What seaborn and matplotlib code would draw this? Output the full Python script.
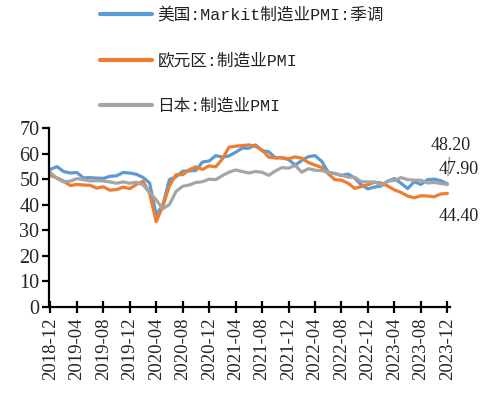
import numpy as np
import pandas as pd
import matplotlib
matplotlib.use("Agg")
import matplotlib.pyplot as plt
import seaborn as sns

months = pd.date_range("2018-12-01", "2023-12-01", freq="MS").strftime("%Y-%m").tolist()

us = [53.8,
      54.9, 53.0, 52.4, 52.6, 50.5, 50.6, 50.4, 50.3, 51.1, 51.3, 52.6, 52.4,
      51.9, 50.7, 48.5, 36.1, 39.8, 49.8, 50.9, 53.1, 53.2, 53.4, 56.7, 57.1,
      59.2, 58.6, 59.1, 60.5, 62.1, 62.1, 63.4, 61.1, 60.7, 58.4, 58.3, 57.7,
      55.5, 57.3, 58.8, 59.2, 57.0, 52.7, 52.2, 51.5, 52.0, 50.4, 47.7, 46.2,
      46.9, 47.3, 49.2, 50.2, 48.4, 46.3, 49.0, 47.9, 49.8, 50.0, 49.4, 48.2]
ez = [51.4,
      50.5, 49.3, 47.5, 47.9, 47.7, 47.6, 46.5, 47.0, 45.7, 45.9, 46.9, 46.3,
      47.9, 49.2, 44.5, 33.4, 39.4, 47.4, 51.8, 51.7, 53.7, 54.8, 53.8, 55.2,
      54.8, 57.9, 62.5, 62.9, 63.1, 63.4, 62.8, 61.4, 58.6, 58.3, 58.4, 58.0,
      58.7, 58.2, 56.5, 55.5, 54.6, 52.1, 49.8, 49.6, 48.4, 46.4, 47.1, 47.8,
      48.8, 48.5, 47.3, 45.8, 44.8, 43.4, 42.7, 43.5, 43.4, 43.1, 44.2, 44.4]
jp = [52.6,
      50.3, 48.9, 49.2, 50.2, 49.8, 49.3, 49.4, 49.3, 48.9, 48.4, 48.9, 48.4,
      48.8, 47.8, 44.8, 41.9, 38.4, 40.1, 45.2, 47.2, 47.7, 48.7, 49.0, 50.0,
      49.8, 51.4, 52.7, 53.6, 53.0, 52.4, 53.0, 52.7, 51.5, 53.2, 54.5, 54.3,
      55.4, 52.7, 54.1, 53.5, 53.3, 52.7, 52.1, 51.5, 50.8, 50.7, 49.0, 48.9,
      48.9, 47.7, 49.2, 49.5, 50.6, 49.8, 49.6, 49.6, 48.5, 48.7, 48.3, 47.9]

series_names = ["美国:Markit制造业PMI:季调", "欧元区:制造业PMI", "日本:制造业PMI"]
colors = ["#5B9BD5", "#ED7D31", "#A5A5A5"]
yticks = [0, 10, 20, 30, 40, 50, 60, 70]

n = len(months)
df = pd.DataFrame({
    "idx": list(range(n)) * 3,
    "value": us + ez + jp,
    "series": [series_names[0]] * n + [series_names[1]] * n + [series_names[2]] * n,
})

sns.set_theme(style="white")
plt.rcParams["font.family"] = ["Liberation Serif", "Noto Sans CJK SC"]

fig = plt.figure(figsize=(4.83, 4.03), dpi=100)
ax = fig.add_axes([49 / 483, (403 - 307) / 403, 401 / 483, (307 - 128) / 403])

sns.lineplot(data=df, x="idx", y="value", hue="series", palette=colors,
             hue_order=series_names, linewidth=2.3, ax=ax, legend=False)

ax.set_xlim(-0.2, 60.4)
ax.set_ylim(0, 70)
ax.set_yticks(yticks)
ax.set_yticklabels([str(v) for v in yticks], fontsize=14.5)
tick_idx = list(range(0, n, 4))
ax.set_xticks(tick_idx)
ax.set_xticklabels([months[i] for i in tick_idx], rotation=90, fontsize=13.5)
ax.set_xlabel("")
ax.set_ylabel("")
for s in ["top", "right"]:
    ax.spines[s].set_visible(False)
for s in ["left", "bottom"]:
    ax.spines[s].set_color("black")
    ax.spines[s].set_linewidth(1.6)
ax.tick_params(axis="x", direction="inout", length=9, width=1.6, color="black", pad=3)
ax.tick_params(axis="y", direction="out", length=5, width=1.6, color="black", pad=2, left=True)
ax.tick_params(axis="x", bottom=True)
ax.grid(False)

# legend
from matplotlib.lines import Line2D
handles = [Line2D([0], [0], color=c, lw=3) for c in colors]
leg = fig.legend(handles, series_names, loc="upper left", bbox_to_anchor=(100 / 483, 1 - 7 / 403),
                 frameon=False, handlelength=3.1, handletextpad=0.35, labelspacing=1.8,
                 borderpad=0, borderaxespad=0,
                 prop={"family": ["Liberation Mono", "Noto Sans CJK SC"], "size": 12})
for t in leg.get_texts():
    t.set_color("#222222")

# data labels
lab_kw = dict(textcoords="offset pixels", fontsize=13, color="#222222", ha="center", va="center")
ax.annotate(f"{us[-1]:.2f}", xy=(n - 1, us[-1]), xytext=(3, 38),
            arrowprops=dict(arrowstyle="-", color="#A5A5A5", lw=1.2, shrinkA=0, shrinkB=6), **lab_kw)
ax.annotate(f"{jp[-1]:.2f}", xy=(n - 1, jp[-1]), xytext=(11, 15), **lab_kw)
ax.annotate(f"{ez[-1]:.2f}", xy=(n - 1, ez[-1]), xytext=(11, -23), **lab_kw)

fig.savefig("out.png", dpi=100)
